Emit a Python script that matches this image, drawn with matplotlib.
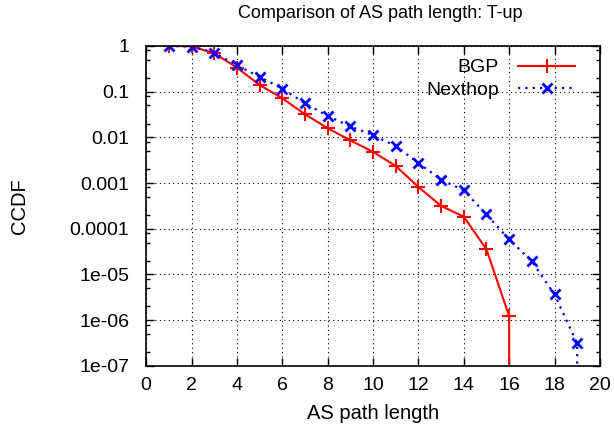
import numpy as np
import matplotlib
matplotlib.use('Agg')
import matplotlib.pyplot as plt
from matplotlib.ticker import FixedLocator, LogLocator, NullFormatter

plt.rcParams['font.family'] = ['Liberation Sans', 'DejaVu Sans']

# data
bgp_x = [1, 2, 3, 4, 5, 6, 7, 8, 9, 10, 11, 12, 13, 14, 15, 16, 16]
bgp_y = [1.0, 0.98, 0.69, 0.336, 0.14, 0.0716, 0.032, 0.0158, 0.0086, 0.0048,
         0.00237, 0.00082, 0.000316, 0.000184, 3.55e-5, 1.23e-6, 1e-12]
nh_x = [1, 2, 3, 4, 5, 6, 7, 8, 9, 10, 11, 12, 13, 14, 15, 16, 17, 18, 19, 19]
nh_y = [1.0, 0.97, 0.715, 0.377, 0.21, 0.116, 0.0556, 0.0294, 0.0174, 0.0111,
        0.00646, 0.00275, 0.00119, 0.00069, 0.000206, 5.86e-5, 1.94e-5,
        3.65e-6, 3.1e-7, 1e-12]
y_ticks = [1, 0.1, 0.01, 0.001, 0.0001, 1e-5, 1e-6, 1e-7]
y_labels = ['1', '0.1', '0.01', '0.001', '0.0001', '1e-05', '1e-06', '1e-07']

fig = plt.figure(figsize=(6.14, 4.33), dpi=100)
ax = fig.add_axes([0.238, 0.155, 0.739, 0.739])

ax.plot(bgp_x, bgp_y, color='red', lw=1.5, marker='+', ms=10, mew=1.5,
        label='BGP')
ax.plot(nh_x, nh_y, color='blue', lw=1.6, ls=(0, (1, 2.3)), marker='x',
        ms=7.5, mew=2, label='Nexthop')

ax.set_yscale('log')
ax.set_xlim(0, 20)
ax.set_ylim(1e-7, 1)
ax.set_xticks(range(0, 21, 2))
ax.yaxis.set_major_locator(FixedLocator(y_ticks))
ax.set_yticklabels(y_labels)
ax.yaxis.set_minor_locator(LogLocator(base=10, subs=[2, 5, 8]))
ax.yaxis.set_minor_formatter(NullFormatter())
ax.tick_params(which='both', direction='in', top=True, right=True,
               labelsize=14)
ax.tick_params(axis='y', pad=12)
ax.tick_params(axis='x', pad=8)
ax.tick_params(which='major', length=6, width=1)
ax.tick_params(which='minor', length=3, width=1)
ax.grid(True, which='major', color='black', ls=(0, (1, 3)), lw=0.8)
for s in ax.spines.values():
    s.set_linewidth(1.2)

ax.set_title('Comparison of AS path length: T-up', fontsize=13, pad=20,
             x=0.515)
ax.set_xlabel('AS path length', fontsize=14.5, labelpad=7)
ax.set_ylabel('CCDF', fontsize=14.5, labelpad=29)

ax.legend(loc='upper right', bbox_to_anchor=(0.962, 0.984), borderaxespad=0,
          markerfirst=False, frameon=False, fontsize=14,
          handlelength=2.9, handletextpad=1.0, labelspacing=0.25)

fig.savefig('out.png', dpi=100)
